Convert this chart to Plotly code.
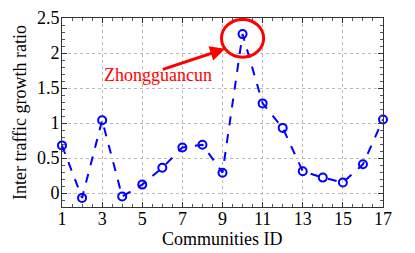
import plotly.graph_objects as go

community_ids = list(range(1, 18))
growth_ratio = [0.68, -0.07, 1.04, -0.05, 0.12, 0.36, 0.65, 0.69, 0.29, 2.27,
                1.28, 0.93, 0.31, 0.22, 0.15, 0.41, 1.05]
x_ticks = [1, 3, 5, 7, 9, 11, 13, 15, 17]
y_ticks = [0, 0.5, 1, 1.5, 2, 2.5]
y_tick_labels = ["0", "0.5", "1", "1.5", "2", "2.5"]
x_title = "Communities ID"
y_title = "Inter traffic growth ratio"
highlight_label = "Zhongguancun"
highlight_id = 10

font = "Times New Roman, Liberation Serif, serif"

fig = go.Figure()
fig.add_trace(go.Scatter(
    x=community_ids, y=growth_ratio, mode="lines+markers",
    line=dict(color="#0000ff", width=2, dash="dash"),
    marker=dict(symbol="circle-open", size=8, color="#0000ff", line=dict(width=2)),
    cliponaxis=False, showlegend=False))

hv = growth_ratio[community_ids.index(highlight_id)]
fig.add_shape(type="circle", xref="x", yref="y",
              x0=highlight_id - 1.05, x1=highlight_id + 1.05,
              y0=hv - 0.33, y1=hv + 0.21,
              line=dict(color="#ff0000", width=3))
fig.add_annotation(x=9.13, y=2.06, ax=5.95, ay=1.76, axref="x", ayref="y",
                   xref="x", yref="y", text="", showarrow=True,
                   arrowhead=2, arrowsize=1, arrowwidth=3, arrowcolor="#ff0000")
fig.add_annotation(x=5.79, y=1.68, xref="x", yref="y", text=highlight_label,
                   showarrow=False, font=dict(family=font, size=18, color="#ff0000"))
fig.add_annotation(x=0.5, y=-0.17, xref="paper", yref="paper", text=x_title,
                   showarrow=False, xanchor="center", yanchor="middle",
                   font=dict(family=font, size=18, color="black"))

axis_common = dict(showline=True, linecolor="#333333", linewidth=1, mirror="ticks",
                   ticks="inside", ticklen=5, tickcolor="#333333", automargin=False,
                   showgrid=True, gridcolor="#bbbbbb", griddash="dot", gridwidth=1,
                   zeroline=False, tickfont=dict(family=font, size=18, color="black"),
                   title_font=dict(family=font, size=18, color="black"))

fig.update_xaxes(range=[1, 17], tickvals=x_ticks, ticklabelstandoff=-5,
                 minor=dict(ticks="inside", ticklen=3, dtick=0.5, tickcolor="#555555", showgrid=False),
                 **axis_common)
fig.update_yaxes(range=[-0.2, 2.5], tickvals=y_ticks, ticktext=y_tick_labels,
                 ticklabelstandoff=-2,
                 title_text=y_title, title_standoff=5,
                 minor=dict(ticks="inside", ticklen=3, dtick=0.1, tickcolor="#555555", showgrid=False),
                 **axis_common)

fig.update_layout(width=415, height=253, margin=dict(l=62, r=32, t=18, b=46),
                  plot_bgcolor="white", paper_bgcolor="white",
                  font=dict(family=font))
fig.write_html("out.html", config={"displayModeBar": False},
               post_script="document.body.style.margin='0';document.body.style.padding='0';")
